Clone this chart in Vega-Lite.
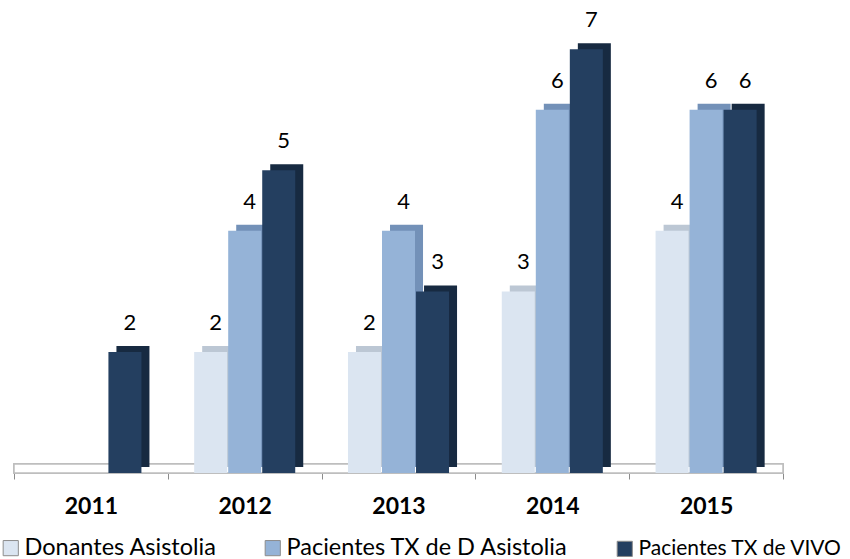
{
  "$schema": "https://vega.github.io/schema/vega-lite/v6.json",
  "autosize": "none",
  "width": 769,
  "height": 454,
  "padding": {"left": 14, "top": 19, "right": 67, "bottom": 86},
  "background": "white",
  "config": {"view": {"stroke": null}, "font": "Lato"},
  "data": {
    "values": [
      {"year": "2011", "series": "Pacientes TX de VIVO", "value": 2},
      {"year": "2012", "series": "Donantes Asistolia", "value": 2},
      {"year": "2012", "series": "Pacientes TX de D Asistolia", "value": 4},
      {"year": "2012", "series": "Pacientes TX de VIVO", "value": 5},
      {"year": "2013", "series": "Donantes Asistolia", "value": 2},
      {"year": "2013", "series": "Pacientes TX de D Asistolia", "value": 4},
      {"year": "2013", "series": "Pacientes TX de VIVO", "value": 3},
      {"year": "2014", "series": "Donantes Asistolia", "value": 3},
      {"year": "2014", "series": "Pacientes TX de D Asistolia", "value": 6},
      {"year": "2014", "series": "Pacientes TX de VIVO", "value": 7},
      {"year": "2015", "series": "Donantes Asistolia", "value": 4},
      {"year": "2015", "series": "Pacientes TX de D Asistolia", "value": 6},
      {"year": "2015", "series": "Pacientes TX de VIVO", "value": 6}
    ]
  },
  "encoding": {
    "x": {
      "field": "year", "type": "nominal",
      "scale": {"domain": ["2011", "2012", "2013", "2014", "2015"], "paddingInner": 0, "paddingOuter": 0},
      "axis": {
        "title": null, "labelAngle": 0, "tickBand": "extent",
        "domainColor": "#8c8c8c", "tickColor": "#8c8c8c", "tickSize": 6,
        "labelFont": "Lato", "labelFontWeight": "bold", "labelFontSize": 23, "labelColor": "#000000",
        "labelPadding": 16
      }
    },
    "y": {
      "field": "value", "type": "quantitative",
      "scale": {"domain": [0, 7.5], "nice": false},
      "axis": null
    }
  },
  "layer": [
    {
      "mark": {"type": "rect", "fill": "white", "stroke": "#bfbfbf", "strokeWidth": 1.5, "x2Offset": 13},
      "encoding": {
        "x": null,
        "y": {"datum": 0, "type": "quantitative"},
        "y2": {"datum": 0.15}
      }
    },
    {
      "mark": {"type": "bar", "yOffset": -6, "y2Offset": -6},
      "encoding": {
        "xOffset": {
          "field": "series", "type": "nominal",
          "scale": {"domain": ["Donantes Asistolia", "Pacientes TX de D Asistolia", "Pacientes TX de VIVO"], "paddingInner": 0.03, "paddingOuter": 0.775, "align": 0.652}
        },
        "color": {
          "field": "series", "type": "nominal", "legend": null,
          "scale": {"domain": ["Donantes Asistolia", "Pacientes TX de D Asistolia", "Pacientes TX de VIVO"], "range": ["#bcc7d4", "#7391b8", "#172a41"]}
        }
      }
    },
    {
      "layer": [
        {
          "mark": {"type": "bar"},
          "encoding": {
            "color": {
              "field": "series", "type": "nominal",
              "scale": {"domain": ["Donantes Asistolia", "Pacientes TX de D Asistolia", "Pacientes TX de VIVO"], "range": ["#dbe5f1", "#95b3d7", "#243f60"]},
              "legend": {
                "title": null, "orient": "none", "direction": "horizontal",
                "legendX": -15, "legendY": 517,
                "symbolType": "square", "symbolSize": 230, "symbolStrokeColor": "#8c8c8c", "symbolStrokeWidth": 1,
                "symbolOffset": 0, "labelOffset": 2, "columnPadding": 44,
                "labelFont": "Lato", "labelFontSize": {"expr": "datum.value == 'Pacientes TX de VIVO' ? 21 : 23.5"},
                "labelColor": "#000000", "labelLimit": 400
              }
            }
          }
        },
        {
          "mark": {"type": "text", "font": "Lato", "fontSize": 22, "color": "#000000", "dx": 5, "dy": -22, "baseline": "alphabetic"},
          "encoding": {"text": {"field": "value", "type": "quantitative"}}
        }
      ],
      "encoding": {
        "xOffset": {
          "field": "series", "type": "nominal",
          "scale": {"domain": ["Donantes Asistolia", "Pacientes TX de D Asistolia", "Pacientes TX de VIVO"], "paddingInner": 0.03, "paddingOuter": 0.775}
        }
      }
    }
  ],
  "resolve": {"scale": {"color": "independent", "xOffset": "independent"}}
}
